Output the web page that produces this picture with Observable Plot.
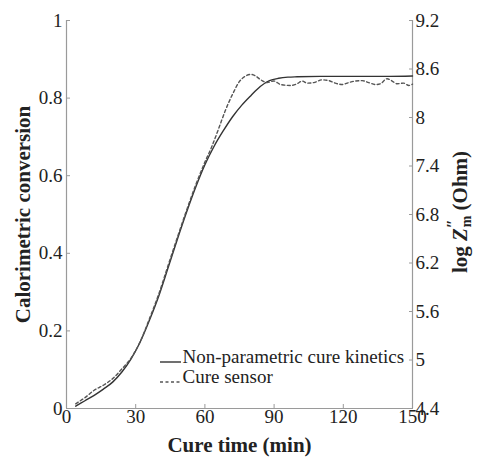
<!DOCTYPE html>
<html>
<head>
<meta charset="utf-8">
<script src="https://cdn.jsdelivr.net/npm/d3@7"></script>
<script src="https://cdn.jsdelivr.net/npm/@observablehq/plot@0.6"></script>
<style>
  html, body { margin: 0; padding: 0; background: #fff; }
  #chart svg { display: block; }
  #chart svg, #chart svg text { font-family: 'Liberation Serif', 'Times New Roman', serif !important; font-variant: normal !important; }
</style>
</head>
<body>
<div id="chart"></div>
<script>
// Non-parametric cure kinetics (solid)
const timeKinetics = [4, 8, 12, 16, 20, 24, 28, 32, 36, 40, 44, 48, 52, 56, 60, 64, 68, 72, 76, 80, 84, 88, 92, 96, 100, 110, 120, 130, 140, 150];
const convKinetics = [0.006, 0.02, 0.034, 0.05, 0.068, 0.094, 0.128, 0.172, 0.228, 0.29, 0.362, 0.435, 0.505, 0.57, 0.628, 0.676, 0.716, 0.752, 0.782, 0.807, 0.83, 0.845, 0.851, 0.854, 0.855, 0.856, 0.856, 0.856, 0.856, 0.857];

// Cure sensor (dashed)
const timeSensor = [4, 6, 8, 12, 16, 20, 24, 28, 32, 36, 40, 44, 48, 52, 56, 60, 63, 66, 69, 72, 75, 78, 80, 82, 84, 87, 89.9, 92.8, 97.1, 100, 102.2, 104.3, 107.2, 110.8, 113.7, 116.6, 119.5, 122.4, 125.3, 128.2, 131, 134, 136.1, 139, 141.2, 143.3, 146.2, 148.4, 150];
const convSensor = [0.012, 0.02, 0.028, 0.047, 0.06, 0.077, 0.102, 0.13, 0.173, 0.232, 0.295, 0.368, 0.44, 0.51, 0.576, 0.635, 0.675, 0.722, 0.77, 0.81, 0.843, 0.858, 0.861, 0.857, 0.848, 0.84, 0.844, 0.835, 0.8325, 0.837, 0.844, 0.8385, 0.84, 0.847, 0.845, 0.8385, 0.835, 0.84, 0.844, 0.845, 0.84, 0.835, 0.837, 0.85, 0.844, 0.837, 0.8385, 0.8325, 0.836];

// Axes
const xTicks = [0, 30, 60, 90, 120, 150];
const yTicks = [0, 0.2, 0.4, 0.6, 0.8, 1];
const zTicks = [4.4, 5, 5.6, 6.2, 6.8, 7.4, 8, 8.6, 9.2];
const zMin = 4.4, zMax = 9.2;

const xLabel = "Cure time (min)";
const yLabel = "Calorimetric conversion";
const legendLabels = ["Non-parametric cure kinetics", "Cure sensor"];

const kinetics = timeKinetics.map((t, i) => ({t, v: convKinetics[i]}));
const sensor = timeSensor.map((t, i) => ({t, v: convSensor[i]}));
const zToConv = z => (z - zMin) / (zMax - zMin);

const serif = "'Liberation Serif', 'Times New Roman', serif";
const axisColor = "#9a9a9a";
const textColor = "#222";
const fmt = d => String(+(+d).toFixed(1));

const plot = Plot.plot({
  width: 479,
  height: 458,
  marginLeft: 66,
  marginRight: 67,
  marginTop: 20,
  marginBottom: 50,
  style: {fontFamily: serif, fontSize: "19px", color: textColor, background: "#fff"},
  x: {domain: [0, 150]},
  y: {domain: [0, 1]},
  marks: [
    Plot.ruleX([0, 150], {stroke: axisColor, strokeWidth: 1.2}),
    Plot.ruleY([0], {stroke: axisColor, strokeWidth: 1.2}),
    Plot.axisX(xTicks, {anchor: "bottom", tickSize: -4, tickPadding: 5, tickFormat: fmt, stroke: axisColor, fill: textColor, fontFamily: serif, label: null}),
    Plot.axisY(yTicks, {anchor: "left", tickSize: -4, tickPadding: 8, tickFormat: fmt, stroke: axisColor, fill: textColor, fontFamily: serif, label: null}),
    Plot.axisY(zTicks.map(zToConv), {anchor: "right", tickSize: -4, tickPadding: 7, tickFormat: d => fmt(zMin + d * (zMax - zMin)), stroke: axisColor, fill: textColor, fontFamily: serif, label: null}),
    Plot.line(kinetics, {x: "t", y: "v", stroke: "#333", strokeWidth: 1.4, curve: "monotone-x"}),
    Plot.line(sensor, {x: "t", y: "v", stroke: "#555", strokeWidth: 1.4, strokeDasharray: "3,2.5", curve: "monotone-x"}),
    Plot.text([xLabel], {frameAnchor: "bottom", dy: 37, textAnchor: "middle", fontWeight: "bold", fontSize: 21, fill: textColor, fontFamily: serif, lineAnchor: "middle"}),
    Plot.text([yLabel], {frameAnchor: "left", dx: -43, dy: 0, rotate: -90, textAnchor: "middle", lineAnchor: "middle", fontWeight: "bold", fontSize: 21, fill: textColor, fontFamily: serif}),
    Plot.text([legendLabels[0]], {frameAnchor: "bottom-left", dx: 116, dy: -46, textAnchor: "start", fontSize: 19, fill: textColor, fontFamily: serif}),
    Plot.text([legendLabels[1]], {frameAnchor: "bottom-left", dx: 116, dy: -26, textAnchor: "start", fontSize: 19, fill: textColor, fontFamily: serif})
  ]
});

const svg = d3.select(plot);
// legend samples
svg.append("line").attr("x1", 160).attr("x2", 181).attr("y1", 362).attr("y2", 362)
  .attr("stroke", "#333").attr("stroke-width", 1.4);
svg.append("line").attr("x1", 160).attr("x2", 181).attr("y1", 382).attr("y2", 382)
  .attr("stroke", "#555").attr("stroke-width", 1.4).attr("stroke-dasharray", "3,2.5");

// right axis label: log Z''_m (Ohm)
const rl = svg.append("text")
  .attr("transform", "translate(462,212) rotate(-90)")
  .attr("text-anchor", "middle")
  .attr("dominant-baseline", "middle")
  .attr("font-family", serif)
  .attr("font-weight", "bold")
  .attr("font-size", 21)
  .attr("fill", textColor);
rl.append("tspan").text("log ");
rl.append("tspan").attr("font-style", "italic").text("Z");
rl.append("tspan").attr("font-size", 16).attr("dy", -8).text("\u2033");
rl.append("tspan").attr("font-size", 14).attr("dx", -8).attr("dy", 14).text("m");
rl.append("tspan").attr("dy", -6).text(" (Ohm)");

document.getElementById("chart").appendChild(plot);
</script>
</body>
</html>
